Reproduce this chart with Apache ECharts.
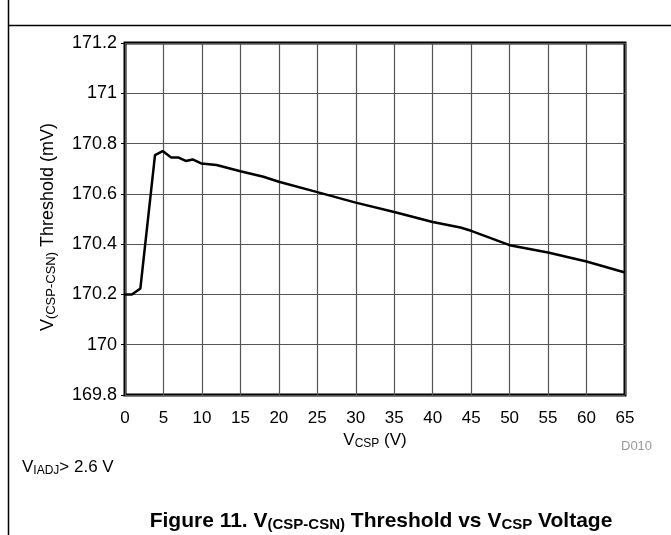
<!DOCTYPE html>
<html>
<head>
<meta charset="utf-8">
<script src="https://cdn.jsdelivr.net/npm/echarts@6/dist/echarts.min.js"></script>
<style>
  html, body { margin: 0; padding: 0; background: #fff; }
  #chart { width: 671px; height: 535px; }
</style>
</head>
<body>
<div id="chart"></div>
<script>
// V(CSP-CSN) threshold vs VCSP
var vcsp = [0, 0.9, 2, 3.9, 4.9, 6, 6.9, 7.9, 8.8, 9.9, 11.9, 15, 18, 20, 25, 30, 35, 40, 43.6, 45, 50, 55, 60, 65];
var threshold = [170.2, 170.2, 170.224, 170.754, 170.77, 170.745, 170.745, 170.731, 170.737, 170.721, 170.715, 170.69, 170.668, 170.648, 170.607, 170.565, 170.528, 170.488, 170.466, 170.453, 170.396, 170.367, 170.331, 170.287];
var xTicks = {min: 0, max: 65, step: 5};
var yTicks = {min: 169.8, max: 171.2, step: 0.2};

var font = '"Liberation Sans", Arial, sans-serif';
var pts = vcsp.map(function (x, i) { return [x, threshold[i]]; });

// rich styles for "V" with subscript
function subRich(big, small, bold) {
  var w = bold ? 'bold' : 'normal';
  return {
    v: {fontSize: big, fontWeight: w, fill: '#000', color: '#000', fontFamily: font},
    s: {fontSize: small, fontWeight: w, fill: '#000', color: '#000', fontFamily: font,
        verticalAlign: 'bottom', padding: [Math.round(small / 2), 0, 0, 0]}
  };
}

var chart = echarts.init(document.getElementById('chart'));
chart.setOption({
  backgroundColor: '#fff',
  animation: false,
  grid: {
    left: 125, right: 46, top: 43, bottom: 140,
    show: true, borderColor: '#000', borderWidth: 3
  },
  xAxis: {
    type: 'value',
    min: xTicks.min, max: xTicks.max, interval: xTicks.step,
    axisLine: {show: false},
    axisTick: {show: false},
    axisLabel: {color: '#000', fontSize: 17, fontFamily: font, margin: 15},
    splitLine: {lineStyle: {color: '#555', width: 1.2}},
    name: '{v|V}{s|CSP}{v| (V)}',
    nameLocation: 'middle',
    nameGap: 35,
    nameTextStyle: {fontFamily: font, rich: subRich(17, 12, false)}
  },
  yAxis: {
    type: 'value',
    min: yTicks.min, max: yTicks.max, interval: yTicks.step,
    axisLine: {show: false},
    axisTick: {show: true, length: 4, lineStyle: {color: '#000', width: 1}},
    axisLabel: {
      color: '#000', fontSize: 18, fontFamily: font, margin: 8,
      formatter: function (v) { return String(Number(v.toFixed(1))); }
    },
    splitLine: {lineStyle: {color: '#555', width: 1.2}}
  },
  series: [{
    type: 'line',
    data: pts,
    showSymbol: false,
    lineStyle: {color: '#000', width: 2.5},
    z: 5
  }],
  graphic: [
    {type: 'line', shape: {x1: 8.5, y1: 0, x2: 8.5, y2: 535}, style: {stroke: '#000', lineWidth: 1.5}},
    {type: 'line', shape: {x1: 8, y1: 25.5, x2: 671, y2: 25.5}, style: {stroke: '#000', lineWidth: 1.5}},
    {type: 'text', x: 48, y: 227, rotation: Math.PI / 2,
      style: {
        text: '{v|V}{s|(CSP-CSN)}{v| Threshold (mV)}',
        align: 'center', verticalAlign: 'middle',
        fontFamily: font, rich: subRich(18, 13, false)
      }},
    {type: 'text', left: 621, top: 440,
      style: {text: 'D010', fontSize: 13, fill: '#999', fontFamily: font}},
    {type: 'text', left: 22, top: 459,
      style: {
        text: '{v|V}{s|IADJ}{v|> 2.6 V}',
        fontFamily: font, rich: subRich(17, 12, false)
      }},
    {type: 'text', x: 381, y: 521,
      style: {
        text: '{v|Figure 11. V}{s|(CSP-CSN)}{v| Threshold vs V}{s|CSP}{v| Voltage}',
        align: 'center', verticalAlign: 'middle',
        fontFamily: font, rich: subRich(21, 15, true)
      }}
  ]
});
</script>
</body>
</html>
